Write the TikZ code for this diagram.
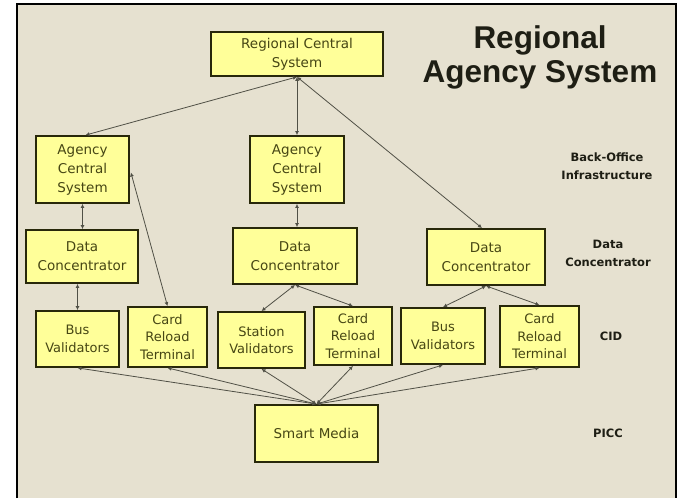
\documentclass[tikz,border=0pt]{standalone}
\usepackage{fontspec}
\setmainfont{DejaVu Sans}
\newfontfamily\titlefont{Liberation Sans}
\usetikzlibrary{arrows.meta,calc}
\definecolor{bgcol}{RGB}{230,225,208}
\definecolor{boxfill}{RGB}{255,255,153}
\definecolor{boxline}{RGB}{40,40,10}
\definecolor{txtcol}{RGB}{70,70,20}
\definecolor{linecol}{RGB}{80,80,70}
\definecolor{labcol}{RGB}{30,30,20}
\begin{document}
\begin{tikzpicture}[x=1pt,y=-1pt,
  box/.style={draw=boxline, line width=1.8pt, fill=boxfill, text=txtcol, align=center,
    inner sep=0pt, font=\fontsize{13.5}{19}\selectfont},
  cidbox/.style={box, font=\fontsize{13}{17.5}\selectfont},
  conn/.style={draw=linecol, line width=0.8pt, {Latex[length=4pt,width=4pt]}-{Latex[length=4pt,width=4pt]}},
  side/.style={text=labcol, align=center, font=\bfseries\fontsize{11.5}{18}\selectfont}
]
\useasboundingbox (0,0) rectangle (682,498);
\fill[white] (0,0) rectangle (682,498);
\fill[bgcol] (17,4) rectangle (676,498);
\draw[black, line width=2pt] (17,498) -- (17,4) -- (676,4) -- (676,498);

% boxes
\node[box, minimum width=172pt, minimum height=44pt] (reg) at (297,54) {Regional Central\\System};
\node[box, minimum width=93pt, minimum height=67pt] (ac1) at (82.5,169.5) {Agency\\Central\\System};
\node[box, minimum width=94pt, minimum height=67pt] (ac2) at (297,169.5) {Agency\\Central\\System};
\node[box, minimum width=112pt, minimum height=53pt] (dc1) at (82,256.5) {Data\\Concentrator};
\node[box, minimum width=124pt, minimum height=56pt] (dc2) at (295,256) {Data\\Concentrator};
\node[box, minimum width=118pt, minimum height=56pt] (dc3) at (486,257) {Data\\Concentrator};
\node[cidbox, minimum width=83pt, minimum height=56pt] (bv1) at (77.5,339) {Bus\\Validators};
\node[cidbox, minimum width=79pt, minimum height=60pt] (cr1) at (167.5,337) {Card\\Reload\\Terminal};
\node[cidbox, minimum width=87pt, minimum height=56pt] (sv) at (261.5,340) {Station\\Validators};
\node[cidbox, minimum width=78pt, minimum height=58pt] (cr2) at (353,336) {Card\\Reload\\Terminal};
\node[cidbox, minimum width=84pt, minimum height=56pt] (bv2) at (443,336) {Bus\\Validators};
\node[cidbox, minimum width=79pt, minimum height=61pt] (cr3) at (539.5,336.5) {Card\\Reload\\Terminal};
\node[box, minimum width=123pt, minimum height=57pt] (sm) at (316.5,433.5) {Smart Media};

% labels
\node[text=labcol, align=center, font=\titlefont\bfseries\fontsize{31.5}{34}\selectfont] (title) at (540,57) {Regional\\Agency System};
\node[side] (lbo) at (607,166) {Back-Office\\Infrastructure};
\node[side] (ldc) at (608,253) {Data\\Concentrator};
\node[side] (lcid) at (611,336) {CID};
\node[side] (lpicc) at (608,433) {PICC};

% connectors
\draw[conn] (reg.south) -- ($(ac1.north)+(3,0)$);
\draw[conn] (reg.south) -- (ac2.north);
\draw[conn] (reg.south) -- ($(dc3.north)+(-4,0)$);
\draw[conn] (ac1.south) -- (ac1.south |- dc1.north);
\draw[conn] ($(ac1.east)+(1,3)$) -- (cr1.north);
\draw[conn] (ac2.south) -- (ac2.south |- dc2.north);
\draw[conn] (bv1.north |- dc1.south) -- (bv1.north);
\draw[conn] (dc2.south) -- (sv.north);
\draw[conn] (dc2.south) -- (cr2.north);
\draw[conn] (dc3.south) -- (bv2.north);
\draw[conn] (dc3.south) -- (cr3.north);
\foreach \n in {bv1,cr1,sv,cr2,bv2,cr3}{
  \draw[conn] (sm.north) -- (\n.south);
}
\end{tikzpicture}
\end{document}
